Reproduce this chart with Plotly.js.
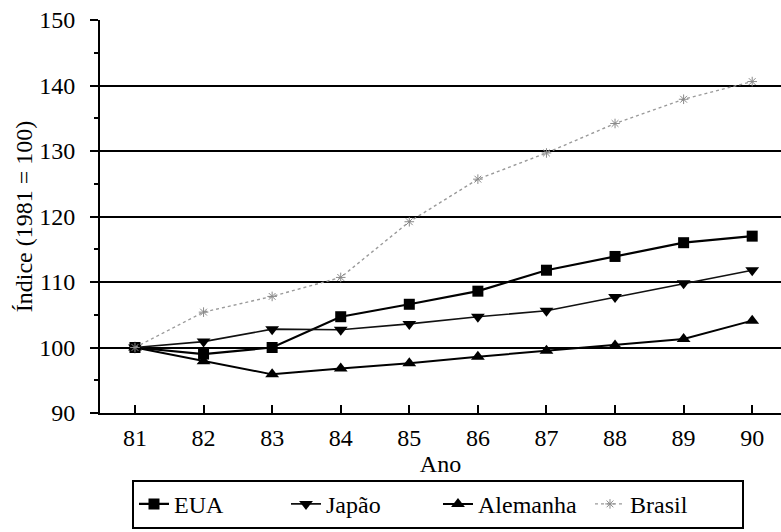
<!DOCTYPE html>
<html>
<head>
<meta charset="utf-8">
<script src="https://cdn.plot.ly/plotly-3.0.1.min.js"></script>
<style>html,body{margin:0;padding:0;background:#fff;}#chart{width:781px;height:532px;}</style>
</head>
<body>
<div id="chart"></div>
<script>
const anos = [81, 82, 83, 84, 85, 86, 87, 88, 89, 90];
const eua = [100, 99, 100, 104.7, 106.6, 108.6, 111.8, 113.9, 116, 117];
const japao = [100, 100.9, 102.8, 102.7, 103.6, 104.7, 105.6, 107.7, 109.8, 111.8];
const alemanha = [100, 97.9, 95.9, 96.8, 97.6, 98.6, 99.5, 100.3, 101.3, 104.1];
const brasil = [100, 105.4, 107.8, 110.7, 119.2, 125.7, 129.7, 134.2, 137.9, 140.6];
const nomes = ['EUA', 'Japão', 'Alemanha', 'Brasil'];
const yTicks = [90, 100, 110, 120, 130, 140, 150];

const font = {family: 'Liberation Serif', size: 24, color: '#000'};
const legFont = {family: 'Liberation Serif', size: 24, color: '#000'};

const traces = [
  {x: anos, y: eua, name: nomes[0], mode: 'lines+markers',
   line: {color: '#000', width: 2.2}, marker: {symbol: 'square', size: 11, color: '#000'}},
  {x: anos, y: japao, name: nomes[1], mode: 'lines+markers',
   line: {color: '#111', width: 1.6}, marker: {symbol: 'triangle-down', size: 12, color: '#000'}},
  {x: anos, y: alemanha, name: nomes[2], mode: 'lines+markers',
   line: {color: '#000', width: 2}, marker: {symbol: 'triangle-up', size: 12, color: '#000'}},
  {x: anos, y: brasil, name: nomes[3], mode: 'lines+markers',
   line: {color: '#9a9a9a', width: 1.4, dash: 'dot'},
   marker: {symbol: 'asterisk-open', size: 8, color: '#8a8a8a', line: {color: '#8a8a8a', width: 1}}}
];

const layout = {
  width: 781, height: 532,
  margin: {l: 100, r: 0, t: 20, b: 119},
  paper_bgcolor: '#fff', plot_bgcolor: '#fff',
  font: font,
  showlegend: true,
  legend: {
    orientation: 'h', xref: 'container', yref: 'container',
    x: 0.169, xanchor: 'left', y: 0.006, yanchor: 'bottom',
    bordercolor: '#000', borderwidth: 2, bgcolor: '#fff',
    entrywidth: 107, entrywidthmode: 'pixels',
    font: legFont, traceorder: 'normal'
  },
  xaxis: {
    range: [80.49, 90.42], tickvals: anos, ticktext: anos.map(String),
    showgrid: false, zeroline: false,
    showline: true, linecolor: '#000', linewidth: 2,
    ticks: 'inside', ticklen: 8, tickwidth: 2, tickcolor: '#000',
    ticklabelstandoff: 2,
    tickfont: font,
    title: {text: 'Ano', font: font, standoff: 2}
  },
  xaxis2: {
    range: [80.49, 90.42], overlaying: 'x', anchor: 'y', side: 'bottom',
    tickvals: anos, showticklabels: false, showgrid: false, zeroline: false,
    showline: false, ticks: 'outside', ticklen: 8, tickwidth: 2, tickcolor: '#000'
  },
  yaxis: {
    range: [90, 150], tickvals: yTicks,
    showgrid: true, gridcolor: '#000', gridwidth: 2,
    zeroline: false, showline: true, linecolor: '#000', linewidth: 2,
    ticks: 'outside', ticklen: 8, tickwidth: 2, tickcolor: '#000',
    ticklabelstandoff: 10,
    tickfont: font,
    minor: {dtick: 5, ticks: 'outside', ticklen: 4, tickwidth: 2, tickcolor: '#000', showgrid: false},
    title: {text: 'Índice (1981 = 100)', font: font, standoff: 0}
  },
  yaxis2: {
    range: [90, 150], overlaying: 'y', anchor: 'x', side: 'left',
    tickvals: [95, 105, 115, 125, 135, 145], showticklabels: false,
    showgrid: false, zeroline: false, showline: false,
    ticks: 'inside', ticklen: 4, tickwidth: 2, tickcolor: '#000'
  }
};

Plotly.newPlot('chart', traces, layout, {displayModeBar: false, staticPlot: true});
</script>
</body>
</html>
